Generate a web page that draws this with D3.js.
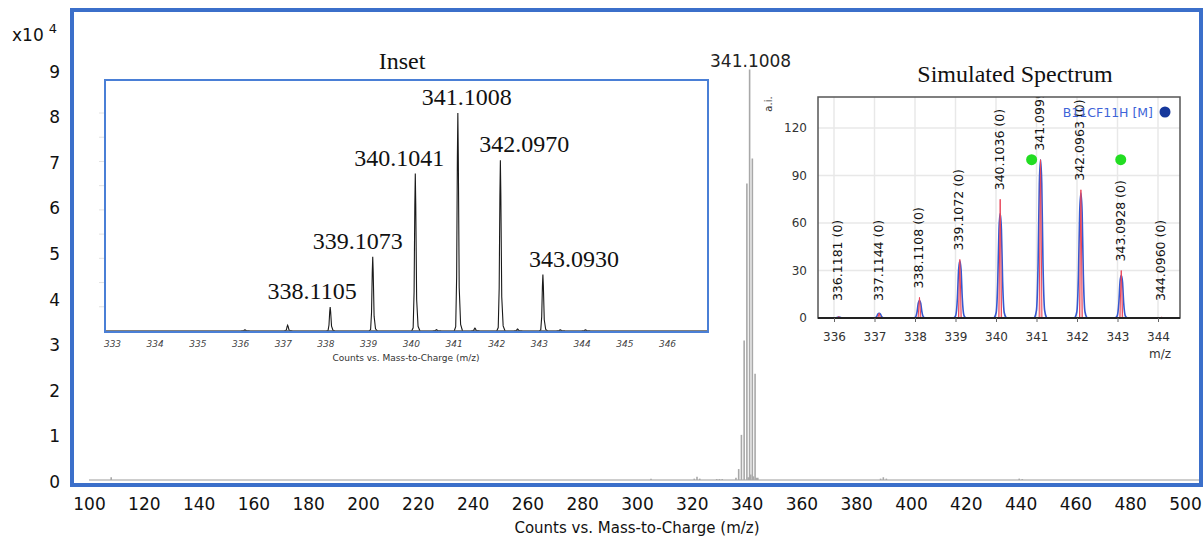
<!DOCTYPE html>
<html>
<head>
<meta charset="utf-8">
<script src="https://cdn.jsdelivr.net/npm/d3@7/dist/d3.min.js"></script>
<style>
  html, body { margin: 0; padding: 0; background: #fff; }
  svg { display: block; }
</style>
</head>
<body>
<svg id="chart" width="1204" height="539"></svg>
<script>
// ---------------- data ----------------
// Molecular-ion cluster (m/z, counts in units of 10^4)
const clusterMz     = [336.1137, 337.1140, 338.1105, 339.1073, 340.1041, 341.1008, 342.0970, 343.0930, 344.0900];
const clusterCounts = [0.05, 0.24, 0.99, 3.06, 6.50, 9.00, 7.05, 2.33, 0.05];
const clusterLabels = ["", "", "338.1105", "339.1073", "340.1041", "341.1008", "342.0970", "343.0930", ""];

// Minor ions elsewhere in the scan (m/z, counts in units of 10^4)
const minorMz     = [108.1, 305.1, 320.9, 321.9, 322.9, 329.1, 330.1, 331.1, 340.6, 341.5, 342.5, 343.5, 388.9, 389.9, 391.0, 439.5, 440.6];
const minorCounts = [0.06, 0.03, 0.03, 0.07, 0.03, 0.02, 0.02, 0.02, 0.06, 0.12, 0.08, 0.05, 0.03, 0.06, 0.03, 0.03, 0.02];

// Axis ticks
const mainXTicks  = [100, 120, 140, 160, 180, 200, 220, 240, 260, 280, 300, 320, 340, 360, 380, 400, 420, 440, 460, 480, 500];
const mainYTicks  = [0, 1, 2, 3, 4, 5, 6, 7, 8, 9];
const insetXTicks = [333, 334, 335, 336, 337, 338, 339, 340, 341, 342, 343, 344, 345, 346];
const insetYTicks = [1, 2, 3, 4, 5, 6, 7, 8, 9];

// Simulated isotope pattern (a.i.)
const simMz        = [336.1181, 337.1144, 338.1108, 339.1072, 340.1036, 341.0999, 342.0963, 343.0928, 344.0960];
const simTheory    = [1, 3, 13, 37, 75, 100, 81, 30, 0.6];
const simEnvelope  = [0.6, 3, 11, 36, 66, 100, 79, 27, 0];
const simMarkerMz  = [340.88, 343.08];
const simMarkerVal = [100, 100];
const simXTicks    = [336, 337, 338, 339, 340, 341, 342, 343, 344];
const simYTicks    = [0, 30, 60, 90, 120];
const simLegend    = "B11CF11H [M]";

// ---------------- layout / style ----------------
const SANS = "DejaVu Sans, Verdana, sans-serif";
const SERIF = "Liberation Serif, Times New Roman, serif";
const frameBlue = "#3b6fca";
// horizontal nudges for the inset peak captions (px)
const insetLabelShift = [0, 0, -18, -15, -16, 9, 24, 31, 0];

const svg = d3.select("#chart");
svg.append("rect").attr("width", 1204).attr("height", 539).attr("fill", "#fff");

// ---------------- main spectrum ----------------
const xMain = d3.scaleLinear().domain([100, 500]).range([89, 1185]);
const yMain = d3.scaleLinear().domain([0, 9]).range([480, 69.6]);

// baseline
svg.append("line")
  .attr("x1", xMain(100)).attr("x2", 1199)
  .attr("y1", yMain(0)).attr("y2", yMain(0))
  .attr("stroke", "#bdbdbd").attr("stroke-width", 1.5);

const allMz = clusterMz.concat(minorMz);
const allCounts = clusterCounts.concat(minorCounts);
svg.append("g").selectAll("line")
  .data(allMz.map((m, i) => ({ m, c: allCounts[i] })))
  .join("line")
  .attr("x1", d => xMain(d.m)).attr("x2", d => xMain(d.m))
  .attr("y1", yMain(0)).attr("y2", d => yMain(d.c))
  .attr("stroke", "#a8a8a8").attr("stroke-width", 1.6);

// label on the base peak
const baseIdx = clusterCounts.indexOf(d3.max(clusterCounts));
svg.append("text")
  .attr("x", xMain(clusterMz[baseIdx]) + 1).attr("y", 67)
  .attr("text-anchor", "middle")
  .attr("font-family", SANS).attr("font-size", 17).attr("fill", "#222")
  .text(clusterMz[baseIdx].toFixed(4));

// frame
svg.append("rect")
  .attr("x", 72).attr("y", 10).attr("width", 1129).attr("height", 475)
  .attr("fill", "none").attr("stroke", frameBlue).attr("stroke-width", 4);

// axes
const gx = svg.append("g").attr("transform", `translate(0,${yMain(0)})`)
  .call(d3.axisBottom(xMain).tickValues(mainXTicks).tickSize(0).tickPadding(18).tickFormat(d3.format("d")));
gx.select(".domain").remove();
gx.selectAll("text").attr("font-family", SANS).attr("font-size", 17).attr("fill", "#111");

const gy = svg.append("g").attr("transform", "translate(60,2)")
  .call(d3.axisLeft(yMain).tickValues(mainYTicks).tickSize(0).tickPadding(0).tickFormat(d3.format("d")));
gy.select(".domain").remove();
gy.selectAll("text").attr("font-family", SANS).attr("font-size", 17).attr("fill", "#111");

// exponent label
const expo = svg.append("text").attr("x", 12).attr("y", 41)
  .attr("font-family", SANS).attr("font-size", 17).attr("fill", "#111");
expo.append("tspan").text("x10");
expo.append("tspan").attr("dx", 5).attr("dy", -8).attr("font-size", 13).text("4");

svg.append("text")
  .attr("x", 637).attr("y", 533)
  .attr("text-anchor", "middle")
  .attr("font-family", SANS).attr("font-size", 15).attr("fill", "#111")
  .text("Counts vs. Mass-to-Charge (m/z)");

// ---------------- inset ----------------
const inset = { x: 105, y: 80, w: 603, h: 252 };
const xIn = d3.scaleLinear().domain([333, 346]).range([112, 667]);
const yIn = d3.scaleLinear().domain([0, 9]).range([331, 113]);

svg.append("text")
  .attr("x", 402).attr("y", 69).attr("text-anchor", "middle")
  .attr("font-family", SERIF).attr("font-size", 24).attr("fill", "#111")
  .text("Inset");

svg.append("rect")
  .attr("x", inset.x).attr("y", inset.y).attr("width", inset.w).attr("height", inset.h)
  .attr("fill", "#fff");

// y tick stubs on the left edge
svg.append("g").selectAll("line").data(insetYTicks).join("line")
  .attr("x1", 99).attr("x2", inset.x)
  .attr("y1", d => yIn(d)).attr("y2", d => yIn(d))
  .attr("stroke", "#e2e2e2").attr("stroke-width", 1);

svg.append("clipPath").attr("id", "insetClip")
  .append("rect").attr("x", inset.x).attr("y", inset.y).attr("width", inset.w).attr("height", inset.h);

const insetG = svg.append("g").attr("clip-path", "url(#insetClip)");

// profile of a single centroid drawn as a narrow peak (offset in m/z, fraction of height)
const insetProfile = [[-0.085, 0], [-0.05, 0.02], [-0.028, 0.25], [-0.011, 0.8], [0, 1], [0.011, 0.8], [0.032, 0.2], [0.065, 0.03], [0.11, 0]];
const peakLineIn = d3.line().x(d => xIn(d[0])).y(d => yIn(d[1]));

insetG.selectAll("path.pk")
  .data(allMz.map((m, i) => ({ m, c: allCounts[i] })).filter(d => d.m > 333 && d.m < 347))
  .join("path").attr("class", "pk")
  .attr("d", d => peakLineIn(insetProfile.map(p => [d.m + p[0], d.c * p[1]])))
  .attr("fill", "none").attr("stroke", "#1a1a1a").attr("stroke-width", 1.1);

insetG.append("line")
  .attr("x1", inset.x).attr("x2", inset.x + inset.w)
  .attr("y1", yIn(0)).attr("y2", yIn(0))
  .attr("stroke", "#555").attr("stroke-width", 1.4);

svg.append("rect")
  .attr("x", inset.x).attr("y", inset.y).attr("width", inset.w).attr("height", inset.h)
  .attr("fill", "none").attr("stroke", "#4a7fd6").attr("stroke-width", 2);

// peak captions
svg.append("g").selectAll("text")
  .data(clusterMz.map((m, i) => ({ m, c: clusterCounts[i], t: clusterLabels[i], dx: insetLabelShift[i] })).filter(d => d.t))
  .join("text")
  .attr("x", d => xIn(d.m) + d.dx).attr("y", d => yIn(d.c) - 8)
  .attr("text-anchor", "middle")
  .attr("font-family", SERIF).attr("font-size", 24).attr("fill", "#111")
  .text(d => d.t);

// inset axis
const gxi = svg.append("g").attr("transform", `translate(0,${inset.y + inset.h})`)
  .call(d3.axisBottom(xIn).tickValues(insetXTicks).tickSize(0).tickPadding(9).tickFormat(d3.format("d")));
gxi.select(".domain").remove();
gxi.selectAll("text").attr("font-family", SANS).attr("font-size", 9).attr("font-style", "italic").attr("fill", "#444");

svg.append("text")
  .attr("x", 406).attr("y", 361).attr("text-anchor", "middle")
  .attr("font-family", SANS).attr("font-size", 9).attr("fill", "#333")
  .text("Counts vs. Mass-to-Charge (m/z)");

// ---------------- simulated spectrum ----------------
const sim = { x: 818, y: 97, w: 362, h: 221 };
const xSim = d3.scaleLinear().domain([336, 344]).range([834, 1158]);
const ySim = d3.scaleLinear().domain([0, 140]).range([318, 96.4]);

svg.append("text")
  .attr("x", 1015).attr("y", 82).attr("text-anchor", "middle")
  .attr("font-family", SERIF).attr("font-size", 24).attr("fill", "#111")
  .text("Simulated Spectrum");

svg.append("rect")
  .attr("x", sim.x).attr("y", sim.y).attr("width", sim.w).attr("height", sim.h)
  .attr("fill", "#fff");

// grid
const gridG = svg.append("g");
gridG.selectAll("line.v").data(simXTicks).join("line").attr("class", "v")
  .attr("x1", d => xSim(d)).attr("x2", d => xSim(d))
  .attr("y1", sim.y).attr("y2", sim.y + sim.h)
  .attr("stroke", "#e8e8e8").attr("stroke-width", 1.5);
gridG.selectAll("line.h").data(simYTicks).join("line").attr("class", "h")
  .attr("x1", sim.x).attr("x2", sim.x + sim.w)
  .attr("y1", d => ySim(d)).attr("y2", d => ySim(d))
  .attr("stroke", "#e8e8e8").attr("stroke-width", 1.5);

svg.append("clipPath").attr("id", "simClip")
  .append("rect").attr("x", sim.x).attr("y", sim.y).attr("width", sim.w).attr("height", sim.h);
const simG = svg.append("g").attr("clip-path", "url(#simClip)");

const envProfile = [[-0.15, 0], [-0.1, 0.05], [-0.06, 0.35], [-0.03, 0.85], [0, 1], [0.03, 0.85], [0.06, 0.35], [0.1, 0.05], [0.15, 0]];
const stickProfile = [[-0.035, 0], [0, 1], [0.035, 0]];
const simLine = d3.line().x(d => xSim(d[0])).y(d => ySim(d[1]));
const simLineSmooth = d3.line().x(d => xSim(d[0])).y(d => ySim(d[1])).curve(d3.curveMonotoneX);

simG.selectAll("path.env")
  .data(simMz.map((m, i) => ({ m, v: simEnvelope[i] })))
  .join("path").attr("class", "env")
  .attr("d", d => simLineSmooth(envProfile.map(p => [d.m + p[0], d.v * p[1]])))
  .attr("fill", "none").attr("stroke", "#3558d0").attr("stroke-width", 1.6);

simG.selectAll("path.stick")
  .data(simMz.map((m, i) => ({ m, v: simTheory[i] })))
  .join("path").attr("class", "stick")
  .attr("d", d => simLine(stickProfile.map(p => [d.m + p[0], d.v * p[1]])))
  .attr("fill", "#f6b3b9").attr("fill-opacity", 0.8)
  .attr("stroke", "#e8465a").attr("stroke-width", 1);

// rotated captions
simG.selectAll("text.cap")
  .data(simMz.map((m, i) => ({ m, v: simTheory[i] })))
  .join("text").attr("class", "cap")
  .attr("transform", d => `translate(${xSim(d.m) - 1},${Math.min(ySim(d.v), ySim(5)) - 9}) rotate(-90)`)
  .attr("dominant-baseline", "central")
  .attr("font-family", SANS).attr("font-size", 12.5).attr("fill", "#111")
  .text(d => d.m.toFixed(4) + " (0)");

simG.selectAll("circle.mk")
  .data(simMarkerMz.map((m, i) => ({ m, v: simMarkerVal[i] })))
  .join("circle").attr("class", "mk")
  .attr("cx", d => xSim(d.m)).attr("cy", d => ySim(d.v)).attr("r", 5.5)
  .attr("fill", "#22dd22");

// legend
simG.append("text")
  .attr("x", 1153).attr("y", 112).attr("text-anchor", "end")
  .attr("dominant-baseline", "central")
  .attr("font-family", SANS).attr("font-size", 12.5).attr("fill", "#3d64d8")
  .text(simLegend);
simG.append("circle").attr("cx", 1165).attr("cy", 112).attr("r", 5.5).attr("fill", "#16389c");

// frame and axes
svg.append("rect")
  .attr("x", sim.x).attr("y", sim.y).attr("width", sim.w).attr("height", sim.h)
  .attr("fill", "none").attr("stroke", "#555").attr("stroke-width", 1.5);
svg.append("line")
  .attr("x1", sim.x).attr("x2", sim.x + sim.w)
  .attr("y1", sim.y + sim.h).attr("y2", sim.y + sim.h)
  .attr("stroke", "#222").attr("stroke-width", 2);

const gxs = svg.append("g").attr("transform", `translate(0,${sim.y + sim.h})`)
  .call(d3.axisBottom(xSim).tickValues(simXTicks).tickSize(4).tickPadding(10).tickFormat(d3.format("d")));
gxs.select(".domain").remove();
gxs.selectAll("line").attr("stroke", "#666");
gxs.selectAll("text").attr("font-family", SANS).attr("font-size", 12).attr("fill", "#333");

const gys = svg.append("g").attr("transform", `translate(${sim.x},0)`)
  .call(d3.axisLeft(ySim).tickValues(simYTicks).tickSize(0).tickPadding(11).tickFormat(d3.format("d")));
gys.select(".domain").remove();
gys.selectAll("text").attr("font-family", SANS).attr("font-size", 12).attr("fill", "#333");

svg.append("text")
  .attr("transform", "translate(772,104) rotate(-90)")
  .attr("text-anchor", "middle")
  .attr("font-family", SANS).attr("font-size", 10).attr("fill", "#333")
  .text("a.i.");

svg.append("text")
  .attr("x", 1160).attr("y", 358).attr("text-anchor", "middle")
  .attr("font-family", SANS).attr("font-size", 12).attr("fill", "#333")
  .text("m/z");
</script>
</body>
</html>
